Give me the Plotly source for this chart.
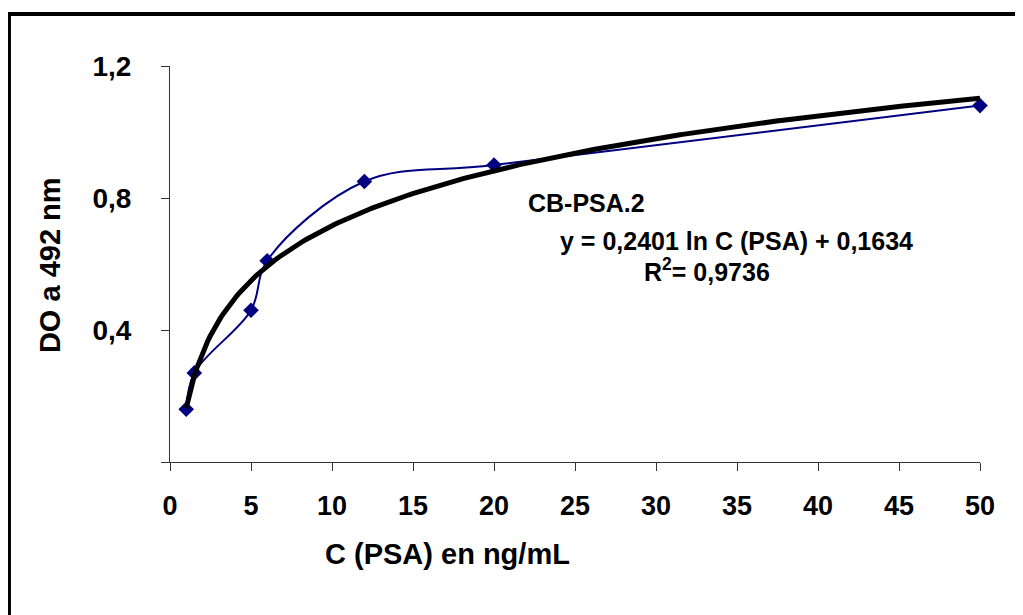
import numpy as np
import plotly.graph_objects as go

# Data
conc = [1, 1.5, 5, 6, 12, 20, 50]            # C (PSA) ng/mL
do492 = [0.16, 0.27, 0.46, 0.61, 0.85, 0.90, 1.08]  # DO a 492 nm

# Logarithmic trendline coefficients (printed on the chart)
slope = 0.2401
intercept = 0.1634

x_ticks = [0, 5, 10, 15, 20, 25, 30, 35, 40, 45, 50]
y_ticks = [0.4, 0.8, 1.2]
y_ticktext = ["0,4", "0,8", "1,2"]

series_name = "CB-PSA.2"
eq_text = "y = 0,2401 ln C (PSA) + 0,1634"
r2_text = "R<sup>2</sup>= 0,9736"

FONT = "Liberation Sans, Arial, sans-serif"

trend_x = np.linspace(min(conc), max(conc), 300)
trend_y = slope * np.log(trend_x) + intercept

fig = go.Figure()
fig.add_trace(go.Scatter(
    x=conc, y=do492, mode="lines+markers",
    line=dict(color="#000080", width=2, shape="spline", smoothing=1),
    marker=dict(symbol="diamond", size=12, color="#000080"),
    cliponaxis=False, showlegend=False, name=series_name))
fig.add_trace(go.Scatter(
    x=trend_x, y=trend_y, mode="lines",
    line=dict(color="black", width=5),
    cliponaxis=False, showlegend=False))

fig.update_xaxes(
    range=[0, 50], tickvals=x_ticks, ticktext=[str(v) for v in x_ticks],
    showgrid=False, zeroline=False, showline=True, linecolor="#333333", linewidth=1,
    ticks="outside", ticklen=8, tickcolor="#333333", tickwidth=1,
    tickfont=dict(family=FONT, size=27, color="black", weight="bold"),
    ticklabelstandoff=12)
fig.update_yaxes(
    range=[0, 1.2], tickvals=y_ticks, ticktext=y_ticktext,
    showgrid=False, zeroline=False, showline=True, linecolor="#333333", linewidth=1,
    ticks="outside", ticklen=8, tickcolor="#333333", tickwidth=1,
    minor=dict(tickvals=[0], ticks="outside", ticklen=8, tickcolor="#333333",
               tickwidth=1, showgrid=False),
    tickfont=dict(family=FONT, size=28, color="black", weight="bold"),
    ticklabelstandoff=24)

ann_font = dict(family=FONT, size=25, color="black", weight="bold")
title_font = dict(family=FONT, size=29, color="black", weight="bold")
fig.update_layout(
    width=1015, height=607,
    margin=dict(l=162, r=43, t=58, b=153),
    paper_bgcolor="white", plot_bgcolor="white",
    annotations=[
        dict(text=series_name, xref="paper", yref="paper", x=0.5136, y=0.654,
             showarrow=False, font=ann_font, xanchor="center", yanchor="middle"),
        dict(text=eq_text, xref="paper", yref="paper", x=0.6988, y=0.558,
             showarrow=False, font=ann_font, xanchor="center", yanchor="middle"),
        dict(text=r2_text, xref="paper", yref="paper", x=0.663, y=0.485,
             showarrow=False, font=ann_font, xanchor="center", yanchor="middle"),
        dict(text="DO a 492 nm", xref="paper", yref="paper", x=-0.148, y=0.4975,
             textangle=-90, showarrow=False, font=title_font,
             xanchor="center", yanchor="middle"),
        dict(text="C (PSA) en ng/mL", xref="paper", yref="paper", x=0.342, y=-0.232,
             showarrow=False, font=title_font, xanchor="center", yanchor="middle"),
    ],
    shapes=[
        dict(type="rect", xref="paper", yref="paper",
             x0=-0.1988, y0=-0.45, x1=1.1, y1=1.1313,
             line=dict(color="black", width=4), fillcolor="rgba(0,0,0,0)", layer="below"),
    ],
)

fig.write_html("out.html")
